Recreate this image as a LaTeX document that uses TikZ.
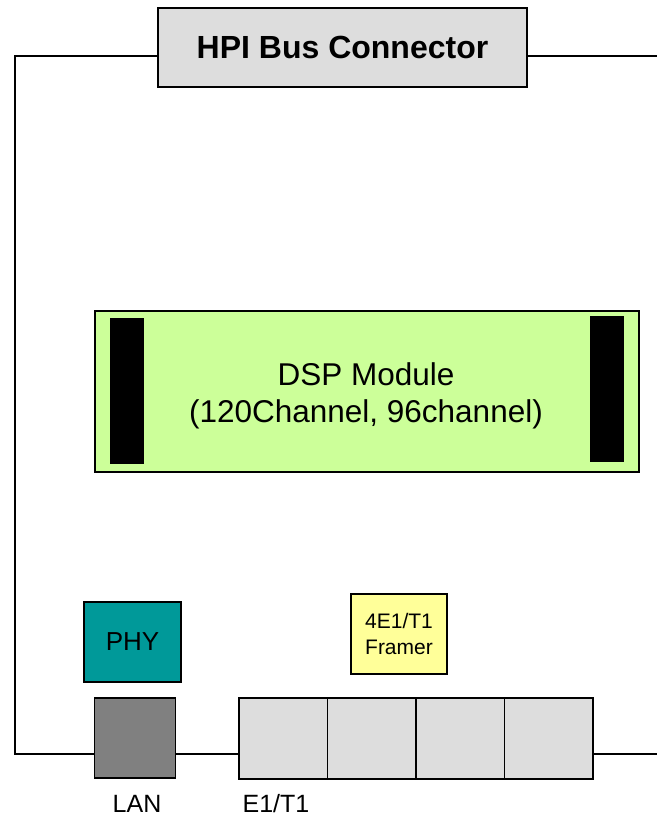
\documentclass[tikz,border=0pt]{standalone}
\usepackage{fontspec}
\setmainfont{Liberation Sans}
\definecolor{hpigray}{HTML}{DDDDDD}
\definecolor{dspgreen}{HTML}{CCFF99}
\definecolor{phyteal}{HTML}{009999}
\definecolor{frameryellow}{HTML}{FFFF99}
\definecolor{langray}{HTML}{808080}
\definecolor{portgray}{HTML}{DDDDDD}
\tikzset{
  blk/.style={draw=black, line width=1.6pt, rectangle, inner sep=0pt, anchor=center},
  bar/.style={fill=black, draw=none, rectangle, inner sep=0pt, minimum width=34pt},
  wire/.style={line width=1.4pt, draw=black},
  lbl/.style={font=\fontsize{25}{30}\selectfont, inner sep=0pt, text depth=0pt, anchor=base}
}
\begin{document}
\begin{tikzpicture}[x=1pt,y=-1pt]
\useasboundingbox (0,0) rectangle (657,816);
% HPI bus connector
\node[blk, fill=hpigray, minimum width=369pt, minimum height=79pt,
      font=\bfseries\fontsize{32}{38}\selectfont] (hpi) at (342.5,47.5) {HPI Bus Connector};
% DSP module
\node[blk, fill=dspgreen, minimum width=544pt, minimum height=161pt] (dsp) at (367,391.5) {};
\node[bar, minimum height=146pt] (barl) at (127,391) {};
\node[bar, minimum height=146pt] (barr) at (607,389) {};
\node[align=center, font=\fontsize{31.5}{37}\selectfont, inner sep=0pt] (dsptxt) at (366,396) {DSP Module\\(120Channel, 96channel)};
% PHY and framer
\node[blk, fill=phyteal, minimum width=97pt, minimum height=80pt,
      font=\fontsize{26}{30}\selectfont] (phy) at (132.5,642) {PHY};
\node[blk, fill=frameryellow, minimum width=96pt, minimum height=80pt, align=center,
      font=\fontsize{21}{26}\selectfont] (framer) at (399,634) {4E1/T1\\Framer};
% LAN and E1/T1 ports
\node[blk, fill=langray, minimum width=81pt, minimum height=80pt] (lan) at (135,738) {};
\node[blk, fill=portgray, minimum width=88.5pt, minimum height=81pt] (p1) at (283.25,738.5) {};
\node[blk, fill=portgray, minimum width=88.5pt, minimum height=81pt] (p2) at (371.75,738.5) {};
\node[blk, fill=portgray, minimum width=88.5pt, minimum height=81pt] (p3) at (460.25,738.5) {};
\node[blk, fill=portgray, minimum width=88.5pt, minimum height=81pt] (p4) at (548.75,738.5) {};
% labels
\node[lbl] (lanlbl) at (137,812) {LAN};
\node[lbl] (e1lbl) at (276,812) {E1/T1};
% wires
\coordinate (tl) at (15,56);
\coordinate (bl) at (15,754);
\coordinate (tr) at (657,56);
\coordinate (br) at (657,754);
\draw[wire] (hpi.west |- tl) -- (tl) -- (bl) -- (lan.west |- bl);
\draw[wire] (hpi.east |- tr) -- (tr);
\draw[wire] (lan.east |- bl) -- (p1.west |- bl);
\draw[wire] (p4.east |- br) -- (br);
\end{tikzpicture}
\end{document}
